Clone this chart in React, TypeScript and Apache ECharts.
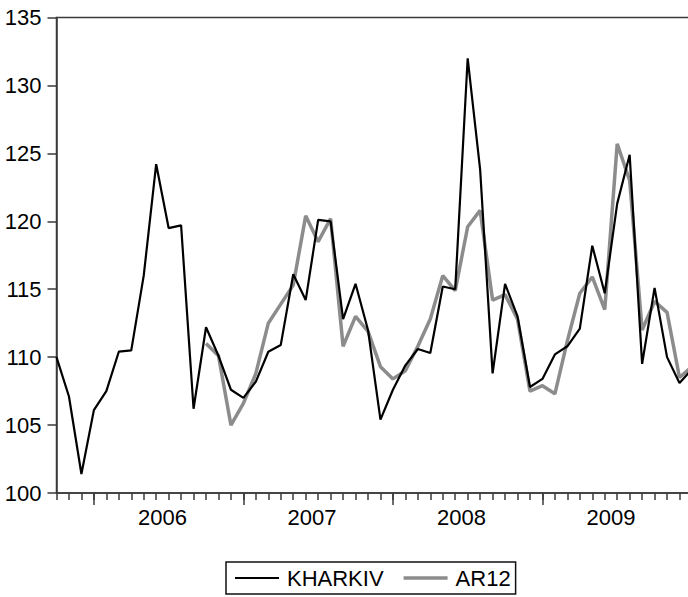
import React, { useEffect, useRef } from "react";
import * as echarts from "echarts";

// Monthly observations starting October 2005 (index 0)
const startYear = 2005;
const startMonth = 10;
const kharkiv = [
  110.0, 107.1, 101.4, 106.1, 107.5, 110.4, 110.5, 116.0, 124.2, 119.5,
  119.7, 106.2, 112.2, 110.1, 107.6, 107.0, 108.2, 110.4, 110.9, 116.1,
  114.2, 120.1, 120.0, 112.8, 115.4, 112.0, 105.4, 107.6, 109.4, 110.6,
  110.3, 115.2, 115.0, 132.0, 123.8, 108.8, 115.4, 113.0, 107.8, 108.4,
  110.2, 110.8, 112.1, 118.2, 114.7, 121.3, 124.9, 109.5, 115.1, 110.0,
  108.1, 109.1,
];
// AR12 fitted values begin at index 12 (October 2006)
const ar12Start = 12;
const ar12 = [
  111.0, 110.1, 105.0, 106.6, 108.8, 112.5, 113.9, 115.3, 120.4, 118.5,
  120.2, 110.8, 113.0, 111.9, 109.3, 108.4, 109.0, 110.8, 112.8, 116.0,
  114.9, 119.6, 120.8, 114.2, 114.6, 112.8, 107.5, 107.9, 107.3, 111.2,
  114.7, 115.9, 113.5, 125.7, 123.0, 112.0, 114.1, 113.3, 108.5, 109.3,
];
const yearLabels = ["2006", "2007", "2008", "2009", "2010"];
const seriesNames = ["KHARKIV", "AR12"];

const monthsAxisMax = 53;
const FONT = "'Liberation Sans', Arial, sans-serif";

export default function App() {
  const ref = useRef<HTMLDivElement>(null);
  useEffect(() => {
    if (!ref.current) return;
    const chart = echarts.init(ref.current, undefined, { renderer: "svg" });
    const firstJan = (12 - startMonth + 1) % 12; // index of first January
    const allTicks: number[] = [];
    for (let i = 0; i <= monthsAxisMax; i++) allTicks.push(i);
    const majorTicks: number[] = [];
    const labelPos: number[] = [];
    const labelMap: Record<string, string> = {};
    yearLabels.forEach((y, k) => {
      const jan = firstJan + 12 * k;
      if (jan <= monthsAxisMax) majorTicks.push(jan);
      const mid = jan + 5.5;
      if (mid <= monthsAxisMax) {
        labelPos.push(mid);
        labelMap[String(mid)] = y;
      }
    });
    const axisColor = "#3a3a3a";
    chart.setOption({
      animation: false,
      backgroundColor: "#fff",
      textStyle: { fontFamily: FONT },
      grid: {
        left: 56.5,
        top: 17.5,
        width: monthsAxisMax * 12.46,
        height: 475.5,
        show: true,
        borderColor: axisColor,
        borderWidth: 1.5,
        backgroundColor: "transparent",
      },
      legend: {
        left: 226,
        top: 562,
        data: [
          {
            name: seriesNames[0],
            icon: "path://M0,0H44V2.2H0Z",
            itemStyle: { color: "#000", borderWidth: 0 },
          },
          {
            name: seriesNames[1],
            icon: "path://M0,0H44V3.5H0Z",
            itemStyle: { color: "#8c8c8c", borderWidth: 0 },
          },
        ],
        symbolKeepAspect: true,
        orient: "horizontal",
        itemWidth: 44,
        itemHeight: 14,
        itemGap: 20,
        padding: [5, 5, 5, 9],
        borderColor: "#111",
        borderWidth: 1.5,
        itemStyle: { borderWidth: 0 },
        textStyle: {
          fontFamily: FONT,
          fontSize: 22,
          color: "#000",
          padding: [0, 0, 0, 3],
        },
      },
      xAxis: [
        {
          type: "value",
          min: 0,
          max: monthsAxisMax,
          position: "bottom",
          axisLine: { show: true, lineStyle: { color: axisColor, width: 1.5 } },
          axisTick: {
            show: true,
            customValues: allTicks,
            length: 7,
            inside: false,
            lineStyle: { color: axisColor, width: 1.5 },
          },
          axisLabel: { show: false },
          splitLine: { show: false },
        },
        {
          type: "value",
          min: 0,
          max: monthsAxisMax,
          position: "bottom",
          axisLine: { show: false },
          axisTick: {
            show: true,
            customValues: majorTicks,
            length: 12,
            inside: false,
            lineStyle: { color: axisColor, width: 1.5 },
          },
          axisLabel: {
            show: true,
            customValues: labelPos,
            margin: 13,
            fontSize: 22,
            fontFamily: FONT,
            color: "#000",
            formatter: (v: number) => labelMap[String(v)] ?? "",
          },
          splitLine: { show: false },
        },
      ],
      yAxis: {
        type: "value",
        min: 100,
        max: 135,
        interval: 5,
        axisLine: { show: true, lineStyle: { color: axisColor, width: 1.5 } },
        axisTick: {
          show: true,
          length: 9,
          inside: false,
          lineStyle: { color: axisColor, width: 1.5 },
        },
        axisLabel: {
          margin: 15,
          fontSize: 22,
          fontFamily: FONT,
          color: "#000",
        },
        splitLine: { show: false },
      },
      series: [
        {
          name: seriesNames[0],
          type: "line",
          xAxisIndex: 0,
          symbol: "none",
          data: kharkiv.map((v, i) => [i, v]),
          lineStyle: { color: "#000", width: 2.2 },
          itemStyle: { color: "#000" },
          z: 3,
        },
        {
          name: seriesNames[1],
          type: "line",
          xAxisIndex: 0,
          symbol: "none",
          data: ar12.map((v, i) => [i + ar12Start, v]),
          lineStyle: { color: "#8c8c8c", width: 3.5 },
          itemStyle: { color: "#8c8c8c" },
          z: 2,
        },
      ],
    });
    return () => chart.dispose();
  }, []);
  return (
    <div
      style={{
        position: "fixed",
        left: 0,
        top: 0,
        width: 688,
        height: 597,
        overflow: "hidden",
        background: "#fff",
      }}
    >
      <div ref={ref} style={{ width: 760, height: 597 }} />
    </div>
  );
}
